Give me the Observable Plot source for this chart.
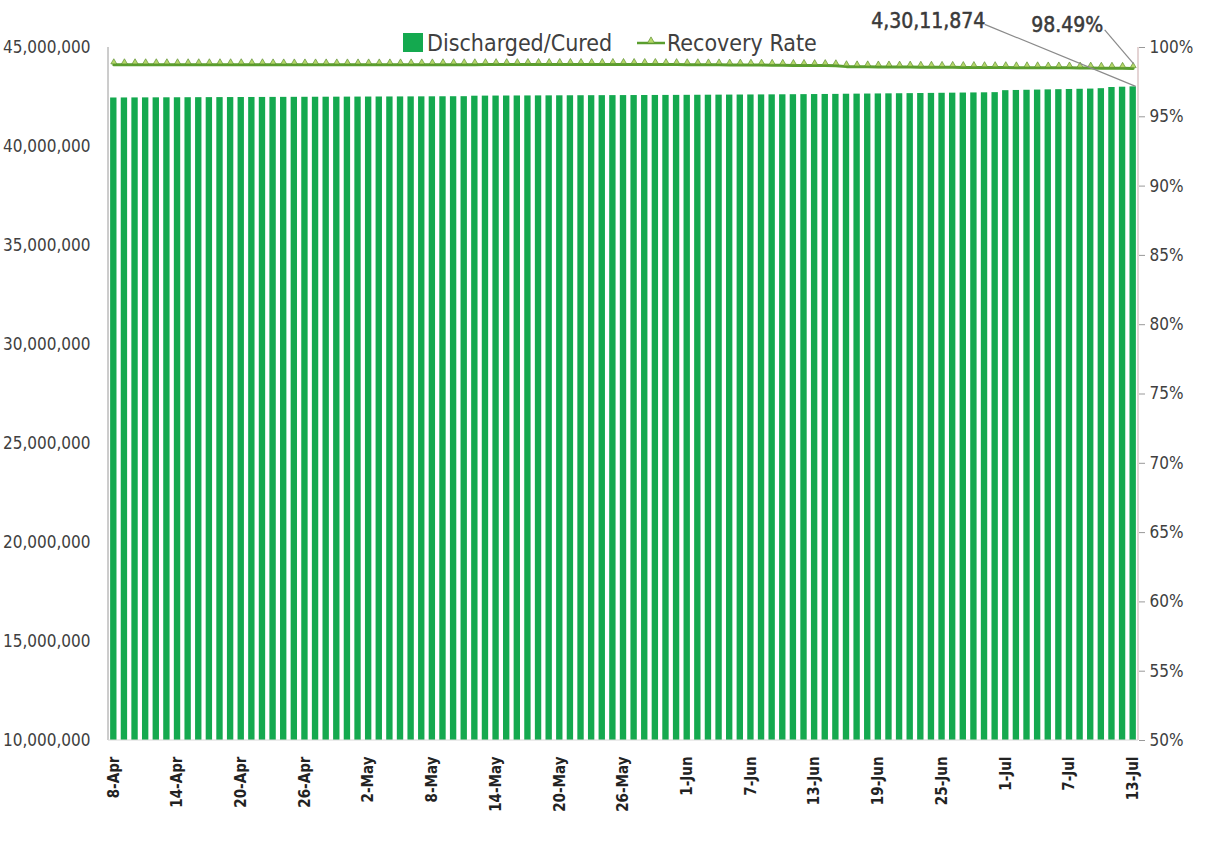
<!DOCTYPE html>
<html><head><meta charset="utf-8">
<script src="https://cdn.jsdelivr.net/npm/d3@7"></script>
<script src="https://cdn.jsdelivr.net/npm/@observablehq/plot@0.6"></script>
<style>
body{margin:0;background:#fff}
#chart{width:1206px;height:846px;position:relative}
</style>
</head><body><div id="chart"></div>
<script>
// ---- data ----
const startDay = [2022, 3, 8];   // 8-Apr
const dayCount = 97;             // 8-Apr .. 13-Jul
const discharged = [
  // Apr 8 - Apr 30
  42450000,42452000,42454000,42456000,42458000,42460000,42462000,42464000,42466000,42468000,42470000,42472000,42474000,42476000,42478000,42480000,42482000,42484000,42486000,42488000,42490000,42492000,42494000,
  // May 1 - May 31
  42496000,42498000,42500000,42502000,42504000,42506000,42508000,42510000,42512000,42514000,42516000,42540000,42545000,42548000,42550000,42552000,42554000,42556000,42558000,42560000,42562000,42564000,42566000,42568000,42570000,42572000,42574000,42576000,42578000,42580000,42582000,
  // Jun 1 - Jun 30
  42585000,42588000,42591000,42594000,42597000,42600000,42603000,42606000,42609000,42612000,42616000,42620000,42624000,42628000,42632000,42640000,42645000,42650000,42655000,42660000,42665000,42670000,42676000,42682000,42688000,42694000,42700000,42706000,42712000,42720000,
  // Jul 1 - Jul 13
  42820000,42830000,42840000,42850000,42860000,42870000,42880000,42890000,42900000,42920000,42980000,42995000,43011874
];
const recoveryRate = [
  // Apr 8 - Apr 30
  98.76,98.76,98.76,98.76,98.76,98.76,98.76,98.76,98.76,98.76,98.76,98.76,98.76,98.76,98.76,98.75,98.75,98.75,98.75,98.75,98.75,98.75,98.75,
  // May 1 - May 31
  98.75,98.75,98.75,98.75,98.75,98.75,98.75,98.75,98.76,98.76,98.76,98.76,98.77,98.77,98.77,98.77,98.78,98.78,98.78,98.78,98.78,98.78,98.78,98.78,98.78,98.78,98.78,98.78,98.78,98.77,98.77,
  // Jun 1 - Jun 30
  98.76,98.76,98.75,98.75,98.74,98.74,98.73,98.73,98.72,98.72,98.71,98.71,98.70,98.70,98.69,98.62,98.61,98.61,98.60,98.60,98.59,98.59,98.58,98.58,98.57,98.57,98.56,98.56,98.55,98.55,
  // Jul 1 - Jul 13
  98.55,98.54,98.54,98.54,98.53,98.53,98.53,98.52,98.52,98.51,98.51,98.50,98.49
];
const leftTicks = [10000000,15000000,20000000,25000000,30000000,35000000,40000000,45000000];
const rightTicks = [50,55,60,65,70,75,80,85,90,95,100];
const seriesNames = ["Discharged/Cured", "Recovery Rate"];
const lastLabels = ["4,30,11,874", "98.49%"];

// ---- build table ----
const fmtDate = d3.utcFormat("%-d-%b");
const dates = d3.utcDay.range(new Date(Date.UTC(...startDay)), d3.utcDay.offset(new Date(Date.UTC(...startDay)), dayCount));
const labels = dates.map(fmtDate);
const yLo = 10000000, yHi = 45000000, rLo = 50, rHi = 100;
const rateToY = r => yLo + (r - rLo) / (rHi - rLo) * (yHi - yLo);
const data = labels.map((l, i) => ({label: l, discharged: discharged[i], rate: recoveryRate[i], rateY: rateToY(recoveryRate[i])}));
const tickLabels = labels.filter((d, i) => i % 6 === 0);
const last = data[data.length - 1];

const FONT = '"Liberation Sans Narrow","DejaVu Sans Condensed","Open Sans",sans-serif';
const BAR = "#14a94f";
const LINE = "#5a9e2e";

const plot = Plot.plot({
  width: 1206, height: 846,
  marginLeft: 108, marginRight: 68, marginTop: 47, marginBottom: 106,
  style: {fontFamily: FONT, background: "white", color: "#404040", overflow: "visible"},
  x: {type: "band", domain: labels, paddingInner: 0.4, paddingOuter: 0.2, label: null},
  y: {domain: [yLo, yHi], label: null},
  marks: [
    Plot.barY(data, {x: "label", y1: yLo, y2: "discharged", fill: BAR}),
    Plot.axisY({anchor: "left", ticks: leftTicks, tickSize: 0, tickPadding: 18, tickFormat: d3.format(","), fontSize: 17, label: null, fill: "#404040"}),
    Plot.axisY({anchor: "right", ticks: rightTicks.map(rateToY), tickSize: 6, tickPadding: 5, stroke: "#999", tickFormat: v => Math.round(rLo + (v - yLo) / (yHi - yLo) * (rHi - rLo)) + "%", fontSize: 17, label: null, fill: "#404040"}),
    Plot.axisX({ticks: tickLabels, tickRotate: -90, tickSize: 0, tickPadding: 16, fontSize: 15, fontWeight: "bold", label: null, fill: "#222"}),
    Plot.line(data, {x: "label", y: "rateY", stroke: LINE, strokeWidth: 3}),
    Plot.dot(data, {x: "label", y: "rateY", symbol: "triangle", r: 2.2, fill: "#b5d96a", stroke: "#5e8f30", strokeWidth: 0.7, dy: -2.5}),
    Plot.text([last], {x: "label", y: "discharged", text: () => lastLabels[0], dx: -205, dy: -66, fontSize: 21, stroke: "#3a3a3a", strokeWidth: 0.5, fill: "#3a3a3a"}),
    Plot.text([last], {x: "label", y: "rateY", text: () => lastLabels[1], dx: -66, dy: -43, fontSize: 21, stroke: "#3a3a3a", strokeWidth: 0.5, fill: "#3a3a3a"})
  ]
});
document.getElementById("chart").appendChild(plot);

// axis lines, leader lines and legend drawn with the plot's own scales
const sx = plot.scale("x"), sy = plot.scale("y");
const svg = d3.select(plot);
const [x0, x1] = sx.range;
const [yb, yt] = sy.range;
const g = svg.append("g");
g.append("line").attr("x1", x0).attr("x2", x0).attr("y1", yt).attr("y2", yb).attr("stroke", "#9a9a9a");
g.append("line").attr("x1", x1).attr("x2", x1).attr("y1", yt).attr("y2", yb).attr("stroke", "#c9a9a9");
g.append("line").attr("x1", x0).attr("x2", x1).attr("y1", yb).attr("y2", yb).attr("stroke", "#d8d8d8");
const cx = sx.apply(last.label) + sx.bandwidth / 2;
g.append("line").attr("x1", cx - 148).attr("y1", sy.apply(last.discharged) - 62).attr("x2", cx + 3).attr("y2", sy.apply(last.discharged)).attr("stroke", "#8a8a8a").attr("stroke-width", 1.2);
g.append("line").attr("x1", cx - 28).attr("y1", sy.apply(last.rateY) - 38).attr("x2", cx + 1).attr("y2", sy.apply(last.rateY) - 4).attr("stroke", "#8a8a8a").attr("stroke-width", 1.2);
// legend
const lg = svg.append("g").attr("font-family", FONT).attr("font-size", 23).attr("fill", "#404040").attr("text-anchor", "start");
lg.append("rect").attr("x", 403).attr("y", 33).attr("width", 20).attr("height", 19).attr("fill", BAR);
lg.append("text").attr("x", 427).attr("y", 51).attr("text-anchor", "start").text(seriesNames[0]);
lg.append("line").attr("x1", 637).attr("x2", 665).attr("y1", 43).attr("y2", 43).attr("stroke", LINE).attr("stroke-width", 2.5);
lg.append("path").attr("d", d3.symbol(d3.symbolTriangle, 22)()).attr("transform", "translate(651,41)").attr("fill", "#b5d96a").attr("stroke", "#5e8f30").attr("stroke-width", 0.7);
lg.append("text").attr("x", 667).attr("y", 51).attr("text-anchor", "start").text(seriesNames[1]);
</script>
</body></html>
